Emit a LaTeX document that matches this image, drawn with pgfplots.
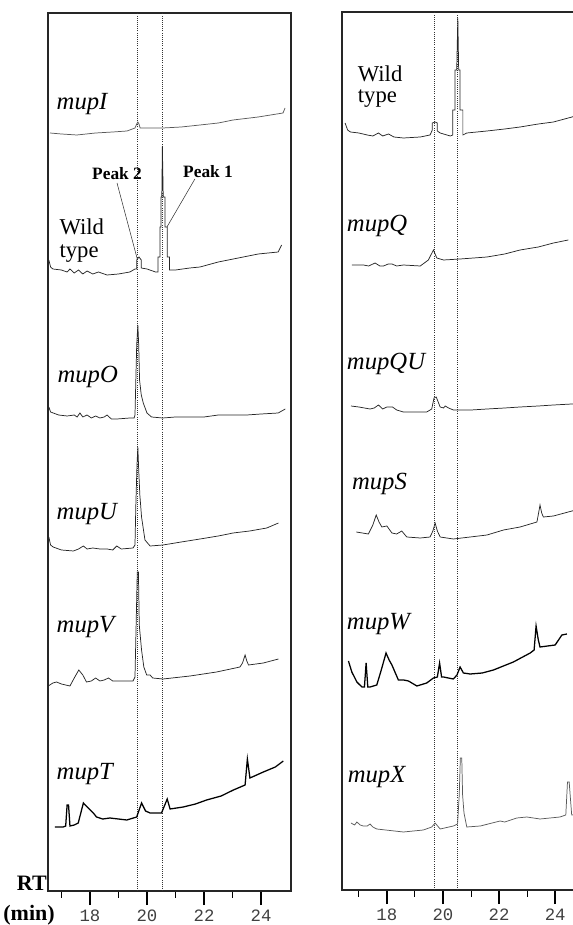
\documentclass[border=0pt]{standalone}
\usepackage{pgfplots}
\pgfplotsset{compat=1.18}
\usepackage{fontspec}
\setmainfont{Liberation Serif}
\newfontfamily\tickfont{Liberation Mono}
\newcommand\lab[1]{{\fontsize{18.5}{20}\selectfont\itshape #1}}
\newcommand\wt[1]{{\fontsize{17}{18}\selectfont #1}}
\pgfplotsset{
  chrom/.style={
    scale only axis, height=658.5pt,
    ytick=\empty,
    xtick={18,20,22,24}, xticklabels={18,20,22,24},
    minor xtick={17,19,21,23},
    xtick pos=bottom,
    tick align=outside,
    major tick length=10.5pt, minor tick length=5pt,
    every major tick/.style={line width=1.4pt, black},
    every minor tick/.style={line width=0.7pt, black},
    axis line style={line width=0.9pt, black!85},
    xticklabel style={font=\tickfont\fontsize{13}{13}\selectfont, text=black!75},
    /pgf/number format/assume math mode=true,
    clip mode=individual,
  },
  tr/.style={line width=0.55pt, black!85},
  trb/.style={line width=0.95pt, black},
  dl/.style={densely dotted, line width=0.6pt, black!80},
}
\begin{document}
\begin{tikzpicture}
\useasboundingbox (0pt,0pt) rectangle (429.75pt,693.75pt);
% ---------------- left panel ----------------
\begin{axis}[chrom, at={(36pt,25.5pt)}, anchor=south west, width=182.25pt,
  xmin=16.53, xmax=25.05, ymin=34, ymax=912]
\addplot[dl] coordinates {(19.67,34) (19.67,912)};
\addplot[dl] coordinates {(20.54,34) (20.54,912)};
% mupI
\addplot[tr, black!65] coordinates {(16.60,792) (17.00,791) (17.54,790) (18.2,792) (18.8,793) (19.30,794) (19.58,797) (19.64,801) (19.68,803) (19.72,801) (19.76,797) (20.0,797) (20.56,797) (21.2,798) (21.86,800) (22.5,802) (23.02,805) (23.9,808) (24.77,812) (24.84,817)};
% Wild type
\addplot[tr] coordinates {(16.56,665) (16.62,658) (16.70,656) (17.0,655) (17.2,653) (17.3,656) (17.45,652) (17.6,655) (17.75,651) (17.9,654) (18.1,651) (18.3,653) (18.6,650) (19.0,651) (19.4,653) (19.58,656) (19.64,656) (19.64,665) (19.72,668) (19.80,665) (19.80,657) (20.0,656) (20.3,653) (20.39,653) (20.39,668) (20.46,668) (20.46,698) (20.49,698) (20.49,728) (20.52,728) (20.54,779) (20.57,728) (20.63,728) (20.63,698) (20.71,698) (20.71,668) (20.79,668) (20.79,655) (21.0,655) (21.5,657) (21.86,658) (22.5,663) (23.2,667) (23.9,671) (24.60,673) (24.72,680)};
% mupO
\addplot[tr] coordinates {(16.56,518) (16.62,513) (16.9,510) (17.2,509) (17.45,510) (17.55,508) (17.65,512) (17.75,508) (17.9,510) (18.05,507) (18.2,509) (18.35,507) (18.5,508) (18.6,510) (18.75,506) (18.95,506) (19.4,507) (19.55,507) (19.58,510) (19.61,545) (19.64,580) (19.68,600) (19.71,580) (19.74,545) (19.80,530) (19.87,522) (20.0,512) (20.16,508) (20.55,507) (21.0,508) (21.5,508) (22.0,508) (22.5,510) (23.0,510) (23.5,510) (24.0,511) (24.6,512) (24.85,516)};
% mupU
\addplot[tr] coordinates {(16.56,388) (16.62,380) (16.71,378) (17.0,375) (17.42,374) (17.6,376) (17.77,379) (17.9,376) (18.1,377) (18.35,376) (18.6,376) (18.8,375) (18.94,379) (19.1,376) (19.51,377) (19.58,380) (19.61,420) (19.65,460) (19.68,478) (19.71,455) (19.75,430) (19.81,408) (19.93,385) (20.11,379) (20.56,380) (21.2,383) (21.86,386) (22.5,389) (23.02,392) (23.6,394) (24.2,397) (24.61,402)};
% mupV
\addplot[tr] coordinates {(16.54,239) (16.7,242) (16.83,243) (17.0,241) (17.30,239) (17.45,247) (17.61,255) (17.75,250) (17.88,243) (18.05,244) (18.2,247) (18.35,244) (18.5,245) (18.65,247) (18.8,244) (19.2,244) (19.51,244) (19.58,248) (19.62,300) (19.66,353) (19.70,353) (19.73,300) (19.81,275) (19.89,258) (19.99,250) (20.11,250) (20.2,247) (20.56,246) (21.51,249) (22.44,253) (23.26,258) (23.35,262) (23.44,270) (23.50,264) (23.56,260) (24.08,262) (24.61,266)};
% mupT
\addplot[trb] coordinates {(16.77,98) (17.06,98) (17.15,99) (17.20,120) (17.25,120) (17.30,99) (17.45,100) (17.59,102) (17.77,122) (17.94,117) (18.12,112) (18.23,108) (18.45,106) (18.70,107) (19.0,106) (19.29,105) (19.64,108) (19.81,122) (19.95,114) (20.11,112) (20.51,112) (20.71,126) (20.81,116) (21.27,118) (21.7,121) (22.09,125) (22.6,129) (23.03,135) (23.44,140) (23.52,166) (23.61,147) (24.08,153) (24.5,158) (24.78,164)};
% labels
\node[anchor=base west] at (axis cs:16.67,815) {\lab{mupI}};
\node[anchor=base west] at (axis cs:16.77,690) {\wt{Wild}};
\node[anchor=base west] at (axis cs:16.77,667) {\wt{type}};
\node[anchor=base west] at (axis cs:16.70,542) {\lab{mupO}};
\node[anchor=base west] at (axis cs:16.67,405) {\lab{mupU}};
\node[anchor=base west] at (axis cs:16.67,292) {\lab{mupV}};
\node[anchor=base west] at (axis cs:16.67,145) {\lab{mupT}};
\node[font=\fontsize{13}{13}\selectfont\bfseries] at (axis cs:18.95,751) {Peak 2};
\node[font=\fontsize{13}{13}\selectfont\bfseries] at (axis cs:22.14,753) {Peak 1};
\draw[line width=0.4pt, black!80] (axis cs:18.95,742) -- (axis cs:19.66,666);
\draw[line width=0.4pt, black!80] (axis cs:21.68,746) -- (axis cs:20.70,698);
\end{axis}
% ---------------- right panel ----------------
\begin{axis}[chrom, at={(256.5pt,26.25pt)}, anchor=south west, width=178.8pt,
  xmin=16.40, xmax=24.90, ymin=35, ymax=913]
\addplot[dl] coordinates {(19.70,35) (19.70,913)};
\addplot[dl] coordinates {(20.53,35) (20.53,913)};
% Wild type
\addplot[tr] coordinates {(16.51,802) (16.60,795) (16.70,793) (17.0,792) (17.3,790) (17.5,789) (17.70,792) (17.85,789) (18.06,791) (18.25,788) (18.59,787) (19.19,788) (19.54,790) (19.62,795) (19.62,802) (19.72,803) (19.80,802) (19.80,794) (19.90,792) (20.26,789) (20.35,790) (20.35,815) (20.43,815) (20.43,855) (20.49,855) (20.53,907) (20.56,855) (20.61,855) (20.61,815) (20.71,815) (20.71,790) (20.85,792) (21.57,794) (22.2,796) (22.75,798) (23.4,801) (23.94,803) (24.60,808) (24.90,811)};
% mupQ
\addplot[tr] coordinates {(16.75,660) (17.16,660) (17.35,659) (17.58,662) (17.75,659) (17.88,659) (18.05,661) (18.18,661) (18.35,659) (18.59,660) (19.19,659) (19.48,665) (19.66,675) (19.78,667) (20.02,665) (20.61,666) (21.57,668) (22.2,671) (22.75,675) (23.4,678) (23.94,682) (24.47,685)};
% mupQU
\addplot[tr] coordinates {(16.72,519) (17.0,518) (17.40,516) (17.55,517) (17.70,520) (17.85,516) (18.00,518) (18.2,518) (18.35,515) (18.59,513) (19.42,513) (19.60,516) (19.68,527) (19.76,528) (19.90,518) (20.02,517) (20.08,519) (20.2,517) (20.37,515) (21.0,515) (21.57,516) (22.2,517) (22.75,518) (23.4,519) (23.94,520) (24.60,521) (24.90,522)};
% mupS
\addplot[tr] coordinates {(16.91,393) (17.34,391) (17.50,400) (17.62,410) (17.72,403) (17.82,398) (18.00,399) (18.18,392) (18.35,391) (18.53,394) (18.71,388) (19.19,387) (19.54,388) (19.64,394) (19.72,402) (19.80,394) (19.90,388) (20.37,386) (20.97,388) (21.57,390) (22.16,395) (22.75,398) (23.35,403) (23.41,412) (23.46,420) (23.52,412) (23.58,408) (23.94,409) (24.60,414) (24.90,416)};
% mupW
\addplot[trb] coordinates {(16.63,264) (16.75,253) (16.93,243) (17.11,238) (17.20,238) (17.26,262) (17.32,238) (17.40,238) (17.64,240) (17.80,255) (17.97,272) (18.08,265) (18.18,260) (18.41,245) (18.6,245) (18.77,244) (19.07,239) (19.42,242) (19.66,247) (19.80,248) (19.88,262) (19.95,248) (20.02,248) (20.37,246) (20.50,250) (20.61,258) (20.73,252) (20.97,251) (21.4,252) (21.80,255) (22.51,263) (23.11,272) (23.25,275) (23.32,299) (23.40,285) (23.46,278) (24.00,280) (24.24,290) (24.42,291)};
% mupX
\addplot[tr, black!65] coordinates {(16.72,102) (16.85,100) (16.93,103) (17.05,100) (17.16,99) (17.30,99) (17.40,101) (17.50,98) (17.64,96) (18.59,93) (19.30,95) (19.60,98) (19.72,102) (19.90,96) (20.37,99) (20.52,101) (20.58,130) (20.62,167) (20.67,167) (20.70,130) (20.75,112) (20.85,98) (21.33,99) (22.04,104) (22.2,103) (22.63,107) (22.99,108) (23.46,106) (24.17,108) (24.38,110) (24.44,143) (24.50,143) (24.59,110) (24.90,111)};
% labels
\node[anchor=base west] at (axis cs:16.80,843) {\wt{Wild}};
\node[anchor=base west] at (axis cs:16.80,822) {\wt{type}};
\node[anchor=base west] at (axis cs:16.41,693) {\lab{mupQ}};
\node[anchor=base west] at (axis cs:16.41,555) {\lab{mupQU}};
\node[anchor=base west] at (axis cs:16.59,435) {\lab{mupS}};
\node[anchor=base west] at (axis cs:16.41,295) {\lab{mupW}};
\node[anchor=base west] at (axis cs:16.44,143) {\lab{mupX}};
\end{axis}
\node[anchor=base east, inner sep=0pt, font=\fontsize{16.5}{17}\selectfont\bfseries] at (35.25pt,25.5pt) {RT};
\node[anchor=base east, inner sep=0pt, font=\fontsize{16.5}{17}\selectfont\bfseries] at (41.25pt,3.75pt) {(min)};
\end{tikzpicture}
\end{document}
